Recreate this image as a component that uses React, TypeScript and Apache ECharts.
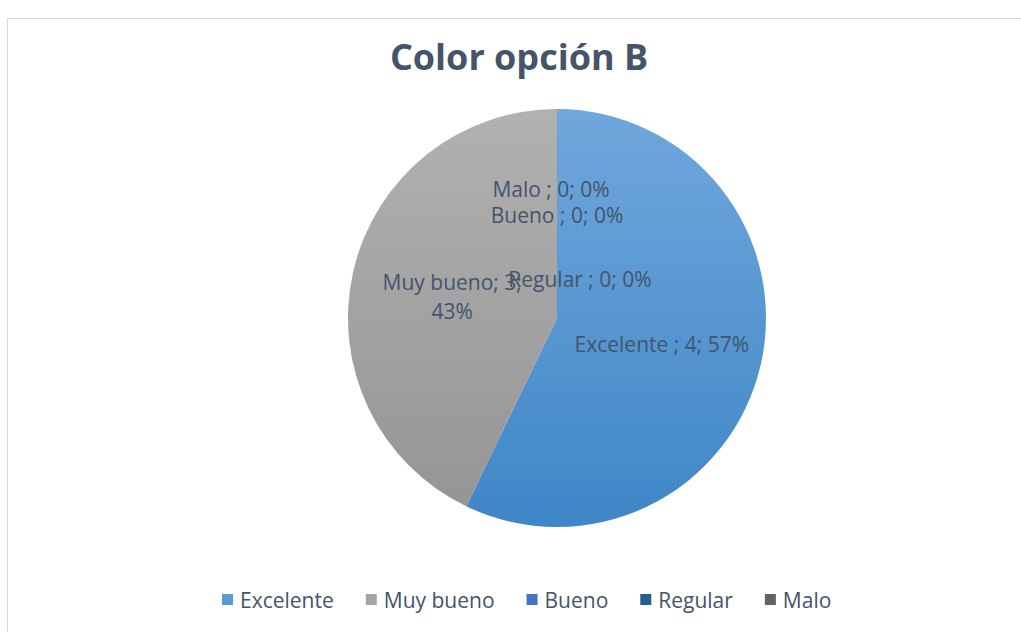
import React, { useEffect, useRef } from "react";
import * as echarts from "echarts";

const categories = ["Excelente", "Muy bueno", "Bueno", "Regular", "Malo"];
const values = [4, 3, 0, 0, 0];
const colorsTop = ["#70a7dc", "#b1b1b1", "#5a84d0", "#2f6ba1", "#707070"];
const colorsBottom = ["#3f86c7", "#959595", "#3a67b8", "#1f5283", "#575757"];
const legendColors = ["#5b9bd5", "#a5a5a5", "#4472c4", "#255e91", "#636363"];
const labelShift: Record<string, [number, number]> = {
  Malo: [-6, -22],
  Bueno: [0, 4],
  Regular: [23, 68],
};

const FONT = "'Open Sans', 'Liberation Sans', sans-serif";
const TEXT = "#44546a";

export default function App() {
  const ref = useRef<HTMLDivElement>(null);
  useEffect(() => {
    if (!ref.current) return;
    const chart = echarts.init(ref.current, undefined, { renderer: "svg" });
    const grad = (i: number) =>
      new echarts.graphic.LinearGradient(0, 0, 0, 1, [
        { offset: 0, color: colorsTop[i] },
        { offset: 1, color: colorsBottom[i] },
      ]);
    chart.setOption({
      animation: false,
      backgroundColor: "#ffffff",
      graphic: [
        {
          type: "rect",
          shape: { x: 7.5, y: 18.5, width: 1030, height: 640 },
          style: { fill: "none", stroke: "#d9d9d9", lineWidth: 1 },
          silent: true,
        },
      ],
      title: {
        text: "Color opción B",
        left: 514,
        textAlign: "center",
        top: 33,
        textStyle: { fontFamily: FONT, fontSize: 36, fontWeight: "bold", color: TEXT },
      },
      legend: {
        bottom: 17,
        left: 217,
        itemWidth: 11,
        itemHeight: 11,
        itemGap: 32,
        icon: "rect",
        data: categories.map((c, i) => ({ name: c, itemStyle: { color: legendColors[i] } })),
        textStyle: { fontFamily: FONT, fontSize: 21, color: TEXT, padding: [0, 0, 0, 2] },
      },
      series: [
        {
          type: "pie",
          center: [557, 318],
          radius: [0, 209],
          startAngle: 90,
          clockwise: true,
          avoidLabelOverlap: false,
          label: {
            show: true,
            position: "inside",
            fontFamily: FONT,
            fontSize: 21,
            lineHeight: 23,
            color: TEXT,
            formatter: (p: any) =>
              p.name === "Muy bueno"
                ? `${p.name}; ${p.value};\n${Math.round(p.percent)}%`
                : `${p.name} ; ${p.value}; ${Math.round(p.percent)}%`,
          },
          labelLine: { show: false },
          labelLayout: (params: any) => {
            const s = labelShift[categories[params.dataIndex]];
            return s ? { dx: s[0], dy: s[1] } : { dy: 2 };
          },
          itemStyle: { borderWidth: 0 },
          emphasis: { disabled: true },
          data: categories.map((c, i) => ({
            name: c,
            value: values[i],
            itemStyle: { color: grad(i) },
            label: c === "Muy bueno" ? { lineHeight: 29 } : undefined,
          })),
        },
      ],
    });
    return () => chart.dispose();
  }, []);
  return (
    <div
      ref={ref}
      style={{ position: "fixed", left: 0, top: 0, width: 1021, height: 632 }}
    />
  );
}
